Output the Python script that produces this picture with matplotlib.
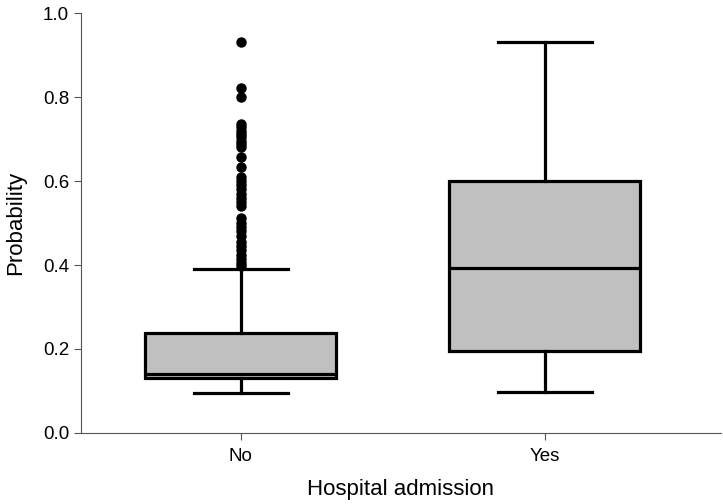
import matplotlib
matplotlib.use("Agg")
import matplotlib.pyplot as plt

plt.rcParams['font.family'] = ['Liberation Sans', 'DejaVu Sans']

categories = ["No", "Yes"]
whislo = [0.095, 0.097]
q1 = [0.132, 0.194]
med = [0.141, 0.393]
q3 = [0.238, 0.600]
whishi = [0.391, 0.930]
outliers_no = [0.931, 0.822, 0.800, 0.735, 0.728, 0.72, 0.712, 0.704, 0.696, 0.688,
               0.68, 0.658, 0.634, 0.61, 0.60, 0.59, 0.58, 0.57, 0.56, 0.55,
               0.54, 0.512, 0.50, 0.49, 0.48, 0.47, 0.455, 0.445, 0.435, 0.425,
               0.415, 0.405, 0.398]
outliers_yes = []

stats = []
for i, c in enumerate(categories):
    stats.append(dict(label=c, whislo=whislo[i], q1=q1[i], med=med[i], q3=q3[i],
                      whishi=whishi[i], fliers=[outliers_no, outliers_yes][i]))

fig = plt.figure(figsize=(7.23, 5.04), dpi=100)
ax = fig.add_axes([0.112, 0.141, 0.885, 0.833])

lw = 2.3
ax.bxp(stats, positions=[1, 2], widths=0.63, patch_artist=True,
       boxprops=dict(facecolor='#c0c0c0', edgecolor='black', linewidth=lw),
       medianprops=dict(color='black', linewidth=lw),
       whiskerprops=dict(color='black', linewidth=lw),
       capprops=dict(color='black', linewidth=lw),
       flierprops=dict(marker='o', markerfacecolor='black', markeredgecolor='black',
                       markersize=6.5, linestyle='none'),
       capwidths=0.31)

ax.set_xlim(0.474, 2.58)
ax.set_ylim(0, 1.0)
ax.set_yticks([0.0, 0.2, 0.4, 0.6, 0.8, 1.0])
ax.set_yticklabels(["0.0", "0.2", "0.4", "0.6", "0.8", "1.0"])
ax.spines['top'].set_visible(False)
ax.spines['right'].set_visible(False)
for s in ['left', 'bottom']:
    ax.spines[s].set_color('#555555')
    ax.spines[s].set_linewidth(0.8)
ax.tick_params(axis='both', colors='#555555', labelcolor='black', labelsize=13.5, length=5)
ax.tick_params(axis='x', pad=6)
ax.set_xlabel("Hospital admission", fontsize=16, labelpad=10)
ax.set_ylabel("Probability", fontsize=16, labelpad=12)
fig.savefig("out.png", dpi=100)
